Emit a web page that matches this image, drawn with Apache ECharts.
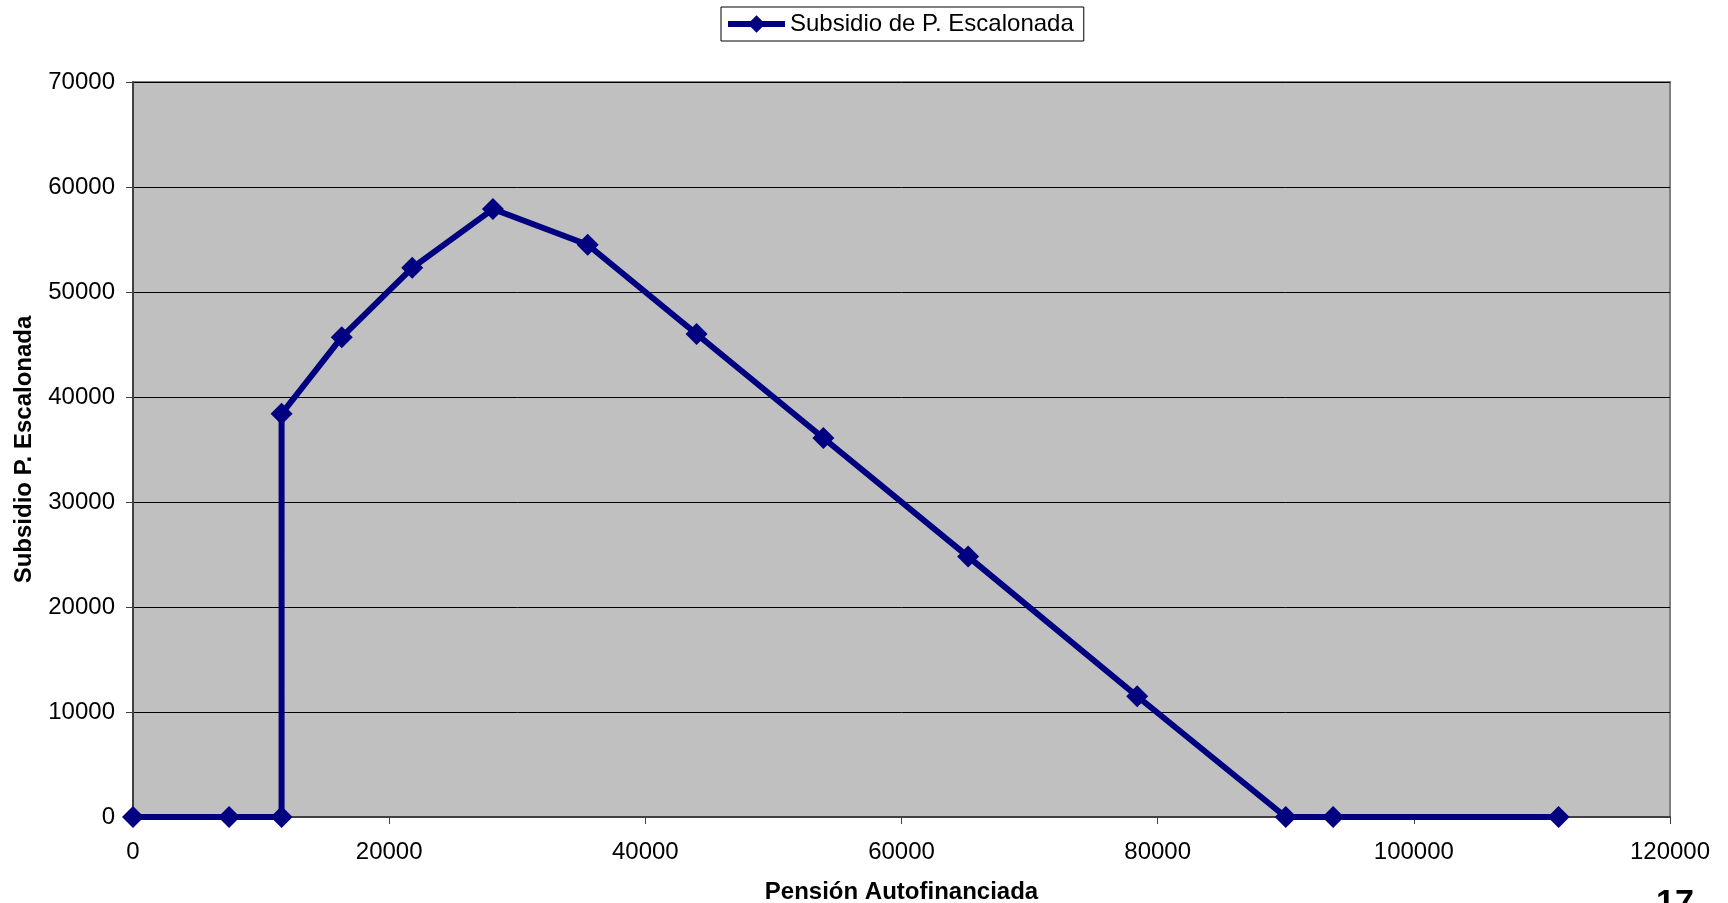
<!DOCTYPE html>
<html>
<head>
<meta charset="utf-8">
<script src="https://cdn.jsdelivr.net/npm/echarts@6/dist/echarts.min.js"></script>
<style>
html,body{margin:0;padding:0;background:#fff;}
#chart{width:1728px;height:903px;}
</style>
</head>
<body>
<div id="chart"></div>
<script>
const seriesName = "Subsidio de P. Escalonada";
const xTitle = "Pensión Autofinanciada";
const yTitle = "Subsidio P. Escalonada";
const pensionValues = [0, 7500, 11600, 11600, 16300, 21800, 28100, 35500, 44000, 53900, 65200, 78400, 90000, 93700, 111300];
const subsidyValues = [0, 0, 0, 38400, 45700, 52300, 57900, 54500, 46000, 36100, 24800, 11500, 0, 0, 0];
const pageNumber = "17";

const FONT = "'Liberation Sans', Arial, sans-serif";
const chart = echarts.init(document.getElementById('chart'), null, {renderer: 'canvas'});
const data = pensionValues.map((x, i) => [x, subsidyValues[i]]);
const plain = v => String(v);

chart.setOption({
  animation: false,
  textStyle: {fontFamily: FONT},
  legend: {
    left: 721, top: 7,
    padding: [5, 10, 5, 4],
    itemGap: 3,
    itemWidth: 57, itemHeight: 22,
    borderColor: '#000', borderWidth: 1,
    lineStyle: {width: 6},
    textStyle: {fontFamily: FONT, fontSize: 24, color: '#000'},
    data: [seriesName]
  },
  grid: {
    left: 133, right: 58, top: 82, bottom: 86,
    containLabel: false, outerBoundsMode: 'none',
    show: true, backgroundColor: '#C0C0C0', borderColor: '#808080', borderWidth: 2
  },
  xAxis: {
    type: 'value', min: 0, max: 120000, interval: 20000,
    name: xTitle, nameLocation: 'middle', nameGap: 63,
    nameTextStyle: {fontFamily: FONT, fontSize: 24, fontWeight: 'bold', color: '#000'},
    axisLine: {show: true, onZero: false, lineStyle: {color: '#404040', width: 2}},
    axisTick: {show: true, inside: false, length: 7, lineStyle: {color: '#404040'}},
    axisLabel: {fontFamily: FONT, fontSize: 24, color: '#000', margin: 23, formatter: plain},
    splitLine: {show: false}
  },
  yAxis: {
    type: 'value', min: 0, max: 70000, interval: 10000,
    name: yTitle, nameLocation: 'middle', nameGap: 97, nameRotate: 90,
    nameTextStyle: {fontFamily: FONT, fontSize: 24, fontWeight: 'bold', color: '#000'},
    axisLine: {show: true, lineStyle: {color: '#404040', width: 2}},
    axisTick: {show: true, inside: false, length: 7, lineStyle: {color: '#404040'}},
    axisLabel: {fontFamily: FONT, fontSize: 24, color: '#000', margin: 18, formatter: plain},
    splitLine: {show: true, lineStyle: {color: '#000', width: 1}}
  },
  series: [{
    name: seriesName,
    type: 'line',
    data: data,
    color: '#000080',
    lineStyle: {color: '#000080', width: 6},
    itemStyle: {color: '#000080'},
    symbol: 'diamond', symbolSize: 22,
    showAllSymbol: true,
    clip: false,
    z: 5
  }],
  graphic: [{
    type: 'text', left: 1656, top: 887,
    style: {text: pageNumber, font: "bold 34px 'Liberation Sans', Arial, sans-serif", fill: '#000'}
  }]
});
</script>
</body>
</html>
